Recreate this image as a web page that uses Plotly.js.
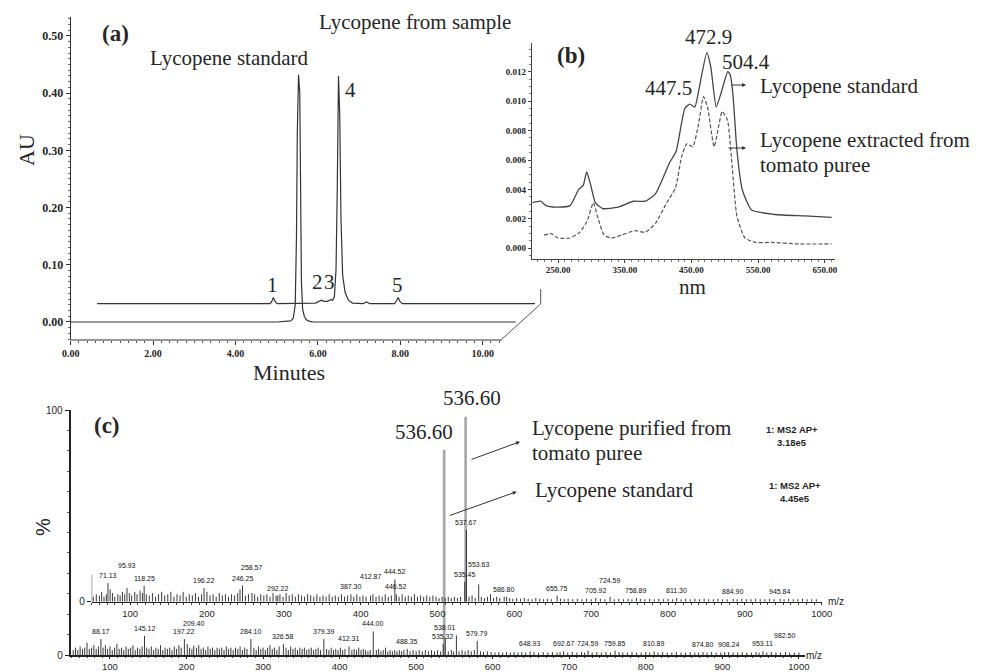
<!DOCTYPE html>
<html><head><meta charset="utf-8">
<script src="https://cdn.plot.ly/plotly-3.0.1.min.js"></script>
<style>html,body{margin:0;padding:0;background:#fff}#chart{width:990px;height:672px}</style>
</head><body><div id="chart"></div>
<script>
// ---------- (a) HPLC chromatograms ----------
const stdTime = [0, 5.0, 5.34, 5.40, 5.45, 5.48, 5.50, 5.53, 5.56, 5.58, 5.60, 5.63, 5.67, 5.72, 5.80, 5.90, 10.8];
const stdAU   = [0, 0, 0.002, 0.006, 0.03, 0.15, 0.33, 0.432, 0.40, 0.22, 0.07, 0.022, 0.010, 0.004, 0.001, 0, 0];
const smpTime = [0, 4.20, 4.24, 4.28, 4.32, 4.37, 5.30, 5.40, 5.45, 5.50, 5.58, 5.68, 5.72, 5.76, 5.80, 5.83, 5.86, 5.89, 5.92, 5.96, 6.02, 6.10, 6.20, 6.46, 6.54, 6.62, 7.22, 7.27, 7.31, 7.35, 7.41, 10.63];
const smpAU   = [0, 0, 0.004, 0.011, 0.004, 0, 0.001, 0.004, 0.006, 0.004, 0.004, 0.007, 0.006, 0.012, 0.06, 0.20, 0.398, 0.33, 0.15, 0.05, 0.02, 0.006, 0.001, 0, 0.003, 0, 0, 0.005, 0.011, 0.004, 0, 0];
const sampleShiftMin = 0.64, sampleShiftAU = 0.032;
const chromTicks = [0, 2, 4, 6, 8, 10];
const peakNums = [{t:4.89,h:0.065,s:'1'},{t:5.98,h:0.07,s:'2'},{t:6.27,h:0.07,s:'3'},{t:6.80,h:0.405,s:'4'},{t:7.92,h:0.065,s:'5'}];

// ---------- (b) UV-Vis spectra ----------
const stdNm  = [212, 224, 232, 247, 268, 281, 288, 293, 299, 306, 317, 340, 363, 381, 396, 417, 427, 440, 447.5, 455, 462, 472.9, 479, 487, 494, 504.4, 508, 512, 518, 526, 540, 575, 620, 660];
const stdAbs = [0.0031,0.0032,0.0029,0.0028,0.0029,0.0040,0.0043,0.0052,0.0043,0.0031,0.0027,0.0028,0.0032,0.0032,0.0037,0.0058,0.0066,0.0095,0.0098,0.0096,0.0110,0.0133,0.0123,0.0096,0.0105,0.0120,0.0118,0.0105,0.0067,0.0040,0.0026,0.0023,0.0022,0.0021];
const smpNm  = [229, 240, 250, 268, 283, 294, 303, 309, 319, 330, 345, 365, 381, 396, 413, 426, 435, 443, 452, 460, 468, 474, 484, 496, 504, 511, 518, 530, 546, 570, 610, 660];
const smpAbs = [0.0009,0.0010,0.0007,0.0007,0.0011,0.0019,0.0031,0.0022,0.0009,0.0007,0.0009,0.0012,0.0011,0.0017,0.0031,0.0041,0.0062,0.0071,0.0069,0.0083,0.0103,0.0096,0.0069,0.0093,0.0087,0.0055,0.0022,0.0007,0.0004,0.0004,0.0003,0.0003];
const nmTicks = [250, 350, 450, 550, 650];

// ---------- (c) MS spectra (m/z, %) ----------
const upperLabeled = [[71.13,7.5],[95.93,5.5],[118.25,6.5],[196.22,5.5],[246.25,6.5],[258.57,3.5],[292.22,2.5],[387.30,3.0],[412.87,2.5],[444.52,9.0],[446.52,3.0],[535.45,8.0],[537.67,29],[553.63,7.0],[586.80,2.0],[655.75,2.5],[705.92,1.5],[724.59,2.0],[758.89,1.5],[811.30,1.5],[884.90,1.2],[945.84,1.2]];
const upperGrass = [[50,11],[52,2],[56,3],[60,2.5],[63,4],[66,2],[69,3],[74,5],[77,3.5],[80,2],[84,3],[87,2.5],[90,4],[93,3],[99,3.5],[102,2.5],[106,4],[109,3],[113,4.5],[116,3.5],[121,3],[125,2.5],[129,3.5],[133,2],[137,3],[141,4],[145,2.5],[149,3],[153,4],[157,2],[161,3],[165,2.5],[169,4],[173,2],[177,3],[181,2.5],[185,3.5],[189,2],[193,3],[200,4],[204,2.5],[208,3],[212,2],[216,3.5],[220,2.5],[224,3],[228,2],[232,3],[236,2.5],[240,3.5],[243,5],[250,2.5],[254,3],[262,3],[266,2],[270,3],[274,2.5],[278,3],[282,2],[286,3.5],[290,2.5],[295,3],[299,2],[303,3.5],[307,2.5],[311,3],[315,2],[319,3],[323,2.5],[327,2],[331,3],[335,2.5],[339,2],[343,3],[347,2],[351,2.5],[355,2],[359,3],[363,2],[367,2.5],[371,2],[375,3],[379,2],[383,2.5],[391,2],[395,3],[399,2],[403,2.5],[407,2],[416,3],[420,2],[424,2.5],[428,2],[432,3],[436,2],[440,2.5],[450,2],[454,3],[458,2],[462,2.5],[466,2],[470,3],[474,2],[478,2.5],[482,2],[486,2.5],[490,2],[494,2.5],[498,2],[502,1.5],[506,2],[510,1.5],[514,2],[518,1.5],[522,2],[526,1.5],[530,2],[541,2],[545,2.5],[549,1.5],[557,2],[561,1.5],[565,2],[569,3],[573,1.5],[577,2],[581,1.5],[590,2],[594,1.5],[598,1.2],[603,1.5],[608,1.2],[613,1.5],[618,1.2],[623,1],[628,1.5],[633,1.2],[638,1],[643,1.2],[648,1],[660,1.2],[665,1],[670,1.2],[676,1],[682,1.2],[688,1],[694,1.2],[700,1],[712,1.2],[718,1],[730,1],[736,1.2],[742,1],[748,1.2],[753,1],[764,1.2],[770,1],[776,1.2],[782,1],[788,1.2],[794,1],[800,1.2],[806,1],[817,1],[823,1.2],[829,1],[835,1.2],[841,1],[847,1.2],[853,1],[859,1],[865,1.2],[871,1],[877,1],[890,1],[896,1.2],[902,1],[908,1],[914,1.2],[920,1],[926,1],[932,1.2],[938,1],[951,1],[957,1.2],[963,1],[969,1],[975,1.2],[981,1],[987,1],[993,1]];
const lowerLabeled = [[88.17,6.5],[145.12,7.8],[197.22,6.5],[209.40,3.8],[284.10,6.5],[326.58,4.4],[379.39,6.5],[412.31,3.5],[444.00,9.6],[488.35,2.5],[535.32,4.5],[538.01,7.0],[579.79,5.8],[648.93,1.5],[692.67,1.5],[724.59,1.8],[759.85,1.8],[810.89,1.5],[874.80,1.2],[908.24,1.2],[953.11,1.5],[982.50,1.2]];
const lowerGrass = [[52,2],[55,3],[58,2],[61,3.5],[64,2.5],[67,3],[70,5],[73,2.5],[76,3],[79,4],[82,2.5],[85,3.5],[91,3],[94,4],[97,2.5],[100,3.5],[103,2],[106,3],[109,4.5],[112,2.5],[115,3],[118,2],[121,3.5],[124,2.5],[127,3],[130,4],[133,2],[136,3],[139,2.5],[142,3.5],[148,3],[151,2.5],[154,3.5],[157,2],[160,3],[163,2.5],[166,4],[169,2],[172,3],[175,2.5],[178,3],[181,2],[184,3.5],[187,2.5],[190,4],[193,3],[201,4.5],[204,3],[207,2.5],[213,3],[216,4],[219,2.5],[222,3],[225,2],[228,3.5],[231,2.5],[234,3],[237,2],[240,3],[243,2.5],[246,3],[249,2],[252,3.5],[255,2.5],[258,3],[261,2],[264,3],[267,2.5],[270,3.5],[273,2],[276,3],[279,2.5],[288,3],[291,2],[294,3.5],[297,2.5],[300,3],[303,2],[306,3],[309,4],[312,2.5],[315,3],[318,2],[321,3.5],[330,3],[333,2],[336,3.5],[339,2.5],[342,3],[345,2],[348,3],[351,2.5],[354,3],[357,2],[360,2.5],[363,3],[366,2],[369,2.5],[372,3],[375,2],[383,2.5],[386,2],[389,3],[392,2],[395,2.5],[398,2],[401,3],[404,2],[407,2.5],[416,2],[419,2.5],[422,2],[425,3],[428,2],[431,2.5],[434,2],[437,1.5],[440,2],[448,2],[451,2.5],[454,1.5],[457,2],[460,3],[463,1.5],[466,2],[469,1.5],[472,2],[475,1.5],[478,2],[481,1.5],[484,2],[492,1.5],[496,2],[500,1.5],[504,2],[508,1.5],[512,2],[516,1.5],[520,2],[524,1.5],[528,2],[532,1.5],[542,1.5],[546,2],[549,1.5],[552.6,8],[556,1.5],[560,2],[564,1.5],[568,2],[572,1.5],[576,2],[584,1.5],[588,1.2],[593,1.5],[598,1.2],[603,1],[608,1.2],[613,1],[618,1.2],[623,1],[628,1.2],[633,1],[638,1.2],[643,1],[654,1.2],[660,1],[666,1.2],[672,1],[678,1.2],[684,1],[688,1.2],[698,1],[704,1.2],[710,1],[716,1.2],[720,1],[730,1],[736,1.2],[742,1],[748,1.2],[754,1],[765,1.2],[770,1],[776,1],[782,1.2],[788,1],[794,1],[800,1.2],[805,1],[816,1],[822,1.2],[828,1],[834,1],[840,1.2],[846,1],[852,1],[858,1.2],[864,1],[869,1],[880,1],[886,1.2],[892,1],[898,1],[903,1.2],[914,1],[920,1],[926,1.2],[932,1],[938,1],[944,1.2],[948,1],[958,1],[964,1.2],[970,1],[976,1],[988,1],[994,1],[1000,1]];
const basePeak = 536.60;
const lowerBaseHeight = 83.8, upperBaseHeight = 74.7;
const mzTicks = [100,200,300,400,500,600,700,800,900,1000];

// ---------- helpers ----------
const W = 990, H = 672;
const px = v => v / W;
const py = v => 1 - v / H;
const SERIF = 'Liberation Serif, Times New Roman, serif';
const SANS = 'Liberation Sans, Arial, sans-serif';
const INK = '#262626';

function sticks(list) {
  const x = [], y = [];
  list.forEach(([m, h]) => { x.push(m, m, null); y.push(0, h, null); });
  return {x, y};
}
function range(a, b, step) { const out = []; for (let v = a; v <= b + 1e-9; v += step) out.push(+v.toFixed(6)); return out; }

const upS = sticks(upperGrass.concat(upperLabeled));
const loS = sticks(lowerGrass.concat(lowerLabeled));

const traces = [
  {x: stdTime, y: stdAU, xaxis:'x', yaxis:'y', mode:'lines', line:{color:'#333', width:1.2}},
  {x: smpTime.map(t => t + sampleShiftMin), y: smpAU.map(v => v + sampleShiftAU), xaxis:'x', yaxis:'y', mode:'lines', line:{color:'#333', width:1.2}},
  {x: stdNm, y: stdAbs, xaxis:'x2', yaxis:'y2', mode:'lines', line:{color:'#444', width:1.3, shape:'spline', smoothing:0.5}},
  {x: smpNm, y: smpAbs, xaxis:'x2', yaxis:'y2', mode:'lines', line:{color:'#555', width:1.2, dash:'4px,2px', shape:'spline', smoothing:0.5}},
  {x: [basePeak, basePeak], y: [0, lowerBaseHeight], xaxis:'x3', yaxis:'y3', mode:'lines', line:{color:'#a6a6a6', width:2.6}},
  {x: [basePeak, basePeak], y: [0, upperBaseHeight], xaxis:'x4', yaxis:'y4', mode:'lines', line:{color:'#a6a6a6', width:2.6}},
  {x: loS.x, y: loS.y, xaxis:'x3', yaxis:'y3', mode:'lines', line:{color:'#222', width:0.9}},
  {x: upS.x, y: upS.y, xaxis:'x4', yaxis:'y4', mode:'lines', line:{color:'#222', width:0.9}}
];

const minorA = range(0.2, 10.4, 0.2).filter(v => Math.abs(v/2 - Math.round(v/2)) > 1e-6);
const tickFontA = {family: SERIF, size: 10, color: INK, weight: 'bold'};
const ann = [];
function txt(x, y, s, size, opts) {
  ann.push(Object.assign({xref:'paper', yref:'paper', x: px(x), y: py(y), text: s, showarrow:false,
    xanchor:'center', yanchor:'middle', font:{family: SERIF, size: size, color: INK}}, opts || {}));
}
function arrow(hx, hy, tx, ty) {
  ann.push({xref:'paper', yref:'paper', x: px(hx), y: py(hy), ax: tx - hx, ay: ty - hy, text:'',
    showarrow:true, arrowhead:2, arrowsize:0.8, arrowwidth:1, arrowcolor:'#333'});
}

// (a) texts
txt(115, 33, '(a)', 23, {font:{family:SERIF, size:23, color:INK, weight:'bold'}});
txt(229, 58, 'Lycopene standard', 21);
txt(415, 22, 'Lycopene from sample', 21);
peakNums.forEach(p => ann.push({xref:'x', yref:'y', x:p.t, y:p.h, text:p.s, showarrow:false, xanchor:'center', yanchor:'middle', font:{family:SERIF, size:21, color:INK}}));
txt(26, 150, 'AU', 22, {textangle:-90});
txt(289, 372, 'Minutes', 22);
// (b) texts
txt(571, 55, '(b)', 23, {font:{family:SERIF, size:23, color:INK, weight:'bold'}});
txt(708, 37, '472.9', 21);
txt(746, 62, '504.4', 21);
txt(668, 88, '447.5', 21);
txt(758, 86, 'Lycopene standard', 21, {xanchor:'left'});
txt(758, 140, 'Lycopene extracted from', 21, {xanchor:'left'});
txt(758, 165, 'tomato puree', 21, {xanchor:'left'});
txt(692, 287, 'nm', 21);
arrow(746, 85, 730, 85);
arrow(746, 148, 727, 148);
// (c) texts
txt(107, 425, '(c)', 23, {font:{family:SERIF, size:23, color:INK, weight:'bold'}});
txt(43, 527, '%', 20, {textangle:-90, font:{family:SANS, size:20, color:INK}});
txt(472, 398, '536.60', 21);
txt(424, 432, '536.60', 21);
txt(530, 428, 'Lycopene purified from', 21, {xanchor:'left'});
txt(530, 453, 'tomato puree', 21, {xanchor:'left'});
txt(533, 490, 'Lycopene standard', 21, {xanchor:'left'});
const msFont = {family:SANS, size:9.5, color:INK, weight:'bold'};
txt(792, 430, '1: MS2 AP+', 9.5, {font:msFont});
txt(792, 442, '3.18e5', 9.5, {font:msFont});
txt(795, 485, '1: MS2 AP+', 9.5, {font:msFont});
txt(795, 498, '4.45e5', 9.5, {font:msFont});
txt(826, 601, 'm/z', 10, {xanchor:'left', font:{family:SANS, size:10, color:INK}});
txt(804, 655, 'm/z', 10, {xanchor:'left', font:{family:SANS, size:10, color:INK}});
arrow(520, 441.7, 470, 460);
arrow(516.7, 491.7, 448.3, 516);

// ---------- axis geometry ----------
const lowerBase = 655;
const geo = {
  lower: {d0: 70.7, d1: 805, r0: 48.7, r1: 1008, base: lowerBase, top: 410},
  upper: {d0: 91.7, d1: 821.7, r0: 50, r1: 1000, base: 601.7, top: 354}
};
// peak labels: stacked upward when they would collide with an earlier label
const pkFont = {family:SANS, size:7, color:'#111'};
function peakLabels(list, g, xr, yr) {
  const boxes = [];
  const pxPerPct = (g.base - g.top) / 100;
  list.forEach(([m, h]) => {
    const s = m.toFixed(2);
    const w = s.length * 3.7 + 1;
    const xc = (m - g.r0) / (g.r1 - g.r0) * (g.d1 - g.d0);
    let shift = 2;
    const clash = sh => boxes.some(b => Math.abs(b.x - xc) < (b.w + w) / 2 + 1 &&
      (h * pxPerPct + sh) < b.y1 && (h * pxPerPct + sh + 8) > b.y0);
    while (clash(shift) && shift < 60) shift += 3;
    boxes.push({x: xc, w: w, y0: h * pxPerPct + shift, y1: h * pxPerPct + shift + 8});
    ann.push({xref:xr, yref:yr, x:m, y:h, text:s, showarrow:false, xanchor:'center',
      yanchor:'bottom', yshift:shift, font:pkFont});
  });
}
peakLabels(upperLabeled, geo.upper, 'x4', 'y4');
peakLabels(lowerLabeled, geo.lower, 'x3', 'y3');

const lineStyle = {color:'#555', width:1};
const shapes = [
  {type:'line', xref:'x', yref:'paper', x0:0, x1:10.47, y0:py(340), y1:py(340), line:{color:'#333', width:1}},
  {type:'line', xref:'paper', yref:'paper', x0:px(501.7), y0:py(339.3), x1:px(540.7), y1:py(304), line:lineStyle},
  {type:'line', xref:'paper', yref:'paper', x0:px(540.7), y0:py(304), x1:px(540.7), y1:py(289), line:lineStyle}
];

const common = {showgrid:false, zeroline:false, fixedrange:true};
const mzFont = {family:SANS, size:9.5, color:INK};
const layout = {
  width: W, height: H, margin:{l:0, r:0, t:0, b:0}, paper_bgcolor:'#fff', plot_bgcolor:'rgba(0,0,0,0)',
  showlegend:false, annotations: ann, shapes: shapes,
  xaxis: Object.assign({}, common, {domain:[px(70.7), px(70.7 + 41.2*11.3)], range:[0, 11.3], anchor:'y',
    showline:false, ticks:'outside', ticklen:4, tickcolor:'#333', tickmode:'array', tickvals: chromTicks,
    ticktext: chromTicks.map(v => v.toFixed(2)), tickfont: tickFontA,
    minor:{tickmode:'array', tickvals: minorA, ticklen:2, ticks:'outside', tickcolor:'#555'}}),
  yaxis: Object.assign({}, common, {domain:[py(340), py(17)], range:[-0.0315, 0.533], anchor:'x',
    showline:true, linecolor:'#333', linewidth:1, ticks:'outside', ticklen:4, tickcolor:'#333',
    tick0:0, dtick:0.1, tickformat:'.2f', tickfont:{family:SERIF, size:12, color:INK, weight:'bold'},
    minor:{dtick:0.01, tick0:0, ticklen:2, ticks:'outside', tickcolor:'#666'}}),
  xaxis2: Object.assign({}, common, {domain:[px(531.7), px(835)], range:[210.6, 665], anchor:'y2',
    showline:true, linecolor:'#444', linewidth:1, ticks:'outside', ticklen:3, tickcolor:'#444',
    tickmode:'array', tickvals: nmTicks, ticktext: nmTicks.map(v => v.toFixed(2)),
    tickfont:{family:SERIF, size:9, color:INK, weight:'bold'},
    minor:{dtick:10, tick0:0, ticklen:2, ticks:'outside', tickcolor:'#777'}}),
  yaxis2: Object.assign({}, common, {domain:[py(258.5), py(42.7)], range:[-0.00069, 0.01397], anchor:'x2',
    showline:true, linecolor:'#444', linewidth:1, ticks:'outside', ticklen:3, tickcolor:'#444',
    tick0:0, dtick:0.002, tickformat:'.3f', tickfont:{family:SERIF, size:9, color:INK, weight:'bold'},
    minor:{dtick:0.0005, tick0:0, ticklen:2, ticks:'outside', tickcolor:'#777'}}),
  xaxis3: Object.assign({}, common, {domain:[px(geo.lower.d0), px(geo.lower.d1)], range:[geo.lower.r0, geo.lower.r1], anchor:'y3',
    showline:true, linecolor:'#222', linewidth:1.5, ticks:'outside', ticklen:2, tickcolor:'#222',
    tickmode:'array', tickvals: mzTicks, tickfont: mzFont,
    minor:{dtick:10, tick0:0, ticklen:1.5, ticks:'outside', tickcolor:'#444'}}),
  yaxis3: Object.assign({}, common, {domain:[py(geo.lower.base), py(geo.lower.top)], range:[0, 100], anchor:'x3',
    showline:true, linecolor:'#222', linewidth:2, ticks:'outside', ticklen:4, tickcolor:'#222',
    tickmode:'array', tickvals:[0, 100], tickfont:{family:SANS, size:10, color:INK},
    minor:{tickmode:'array', tickvals: range(100/12, 100 - 100/12, 100/12), ticklen:2, ticks:'outside', tickcolor:'#555'}}),
  xaxis4: Object.assign({}, common, {domain:[px(geo.upper.d0), px(geo.upper.d1)], range:[geo.upper.r0, geo.upper.r1], anchor:'y4',
    showline:true, linecolor:'#222', linewidth:1.5, ticks:'outside', ticklen:2, tickcolor:'#222',
    tickmode:'array', tickvals: mzTicks, tickfont: mzFont,
    minor:{dtick:10, tick0:0, ticklen:1.5, ticks:'outside', tickcolor:'#444'}}),
  yaxis4: Object.assign({}, common, {domain:[py(geo.upper.base), py(geo.upper.top)], range:[0, 100], anchor:'x4',
    showline:false, ticks:'outside', ticklen:4, tickcolor:'#222', tickmode:'array', tickvals:[0],
    tickfont:{family:SANS, size:10, color:INK}})
};

Plotly.newPlot('chart', traces, layout, {staticPlot:true, displayModeBar:false});
</script>
</body></html>
